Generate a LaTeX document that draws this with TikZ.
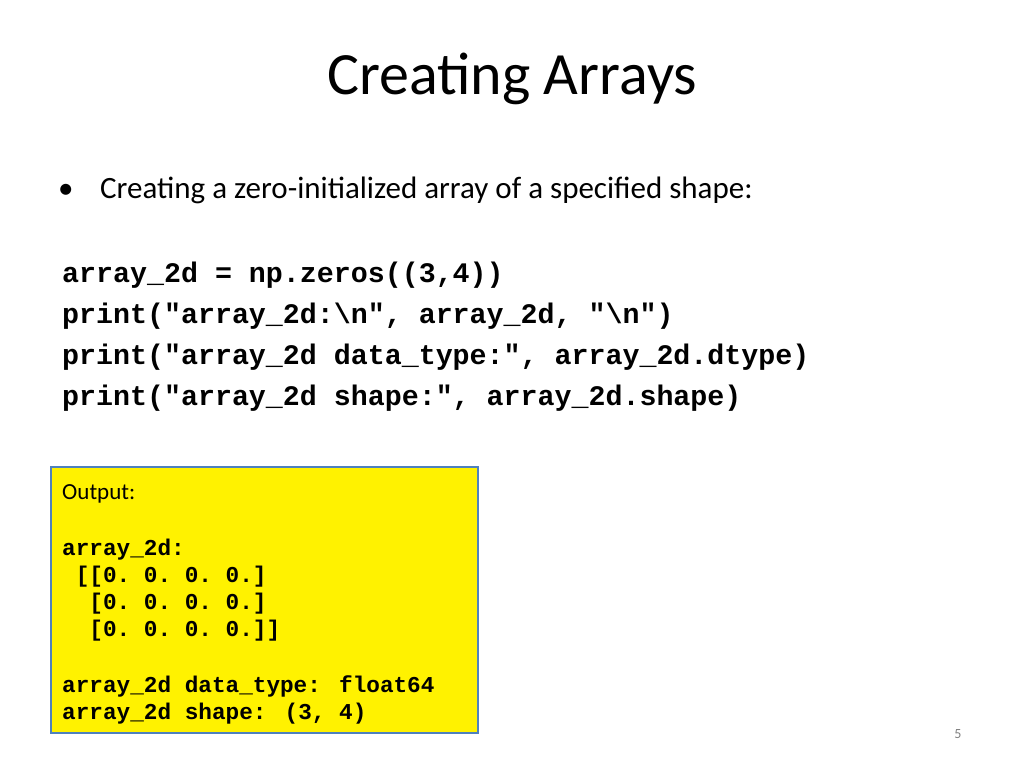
\documentclass[tikz,border=0pt]{standalone}
\usepackage{fontspec}
\setmainfont{Carlito}
\newfontfamily\codefont{Liberation Mono}
\begin{document}
\begin{tikzpicture}[x=1pt,y=-1pt,
  code/.style={anchor=base west,inner sep=0pt,font=\codefont\bfseries\fontsize{28.3}{34}\selectfont},
  outc/.style={anchor=base west,inner sep=0pt,font=\codefont\bfseries\fontsize{22.7}{27}\selectfont}]
\useasboundingbox (0,0) rectangle (1024,768);
\node[anchor=base,inner sep=0pt,font=\fontsize{60}{70}\selectfont] (title) at (512,94) {Creating Arrays};
\node[anchor=base west,inner sep=0pt,font=\fontsize{31}{36}\selectfont] (bul) at (58,198) {•};
\node[anchor=base west,inner sep=0pt,font=\fontsize{31}{36}\selectfont] (b1) at (100,198) {Creating a zero-initialized array of a specified shape:};
\node[code] (c1) at (62,282) {array\_2d = np.zeros((3,4))};
\node[code] (c2) at (62,323) {print("array\_2d:\textbackslash n", array\_2d, "\textbackslash n")};
\node[code] (c3) at (62,364) {print("array\_2d data\_type:", array\_2d.dtype)};
\node[code] (c4) at (62,405) {print("array\_2d shape:", array\_2d.shape)};
\draw[draw={rgb,255:red,79;green,129;blue,189},line width=2.2,fill=yellow] (51,467) rectangle (478,733);
\node[anchor=base west,inner sep=0pt,font=\fontsize{23}{27}\selectfont] (o0) at (62,499) {Output:};
\node[outc] (o1) at (62,555) {array\_2d:};
\node[outc] (o2) at (62,582) {~[[0.~0.~0.~0.]};
\node[outc] (o3) at (62,609) {~~[0.~0.~0.~0.]};
\node[outc] (o4) at (62,636) {~~[0.~0.~0.~0.]]};
\node[outc] (o5) at (62,692) {array\_2d data\_type: float64};
\node[outc] (o6) at (62,719) {array\_2d shape: (3, 4)};
\node[anchor=base,inner sep=0pt,text=gray,font=\fontsize{14}{16}\selectfont] (pg) at (958,738) {5};
\end{tikzpicture}
\end{document}
